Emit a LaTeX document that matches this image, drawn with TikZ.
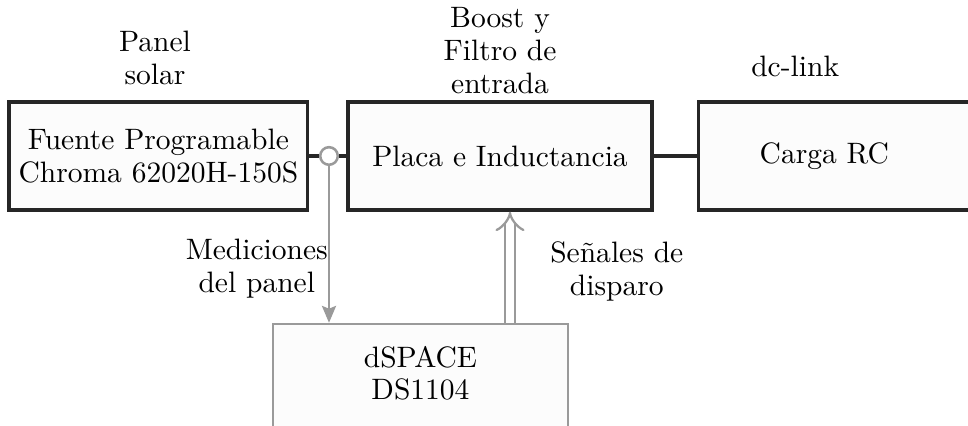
\documentclass[tikz,border=0pt]{standalone}
\usepackage{amsmath,amssymb}
\usepackage{tikz}
\usetikzlibrary{shapes,arrows.meta,positioning,calc}
\usepackage{xcolor}
\definecolor{sigGray}{HTML}{9A9A9A}

\begin{document}
\begin{tikzpicture}[
    font=\fontsize{10.5}{11.7}\selectfont,
    block/.style={draw=black!85, line width=1.2pt, fill=black!1, minimum height=1.35cm, align=center},
    dspbox/.style={draw=sigGray, line width=0.9pt, fill=black!1, minimum height=1.45cm},
    sigline/.style={draw=sigGray, line width=0.9pt, -{Stealth[length=6pt,width=5pt,inset=1pt]}},
    dblsig/.style={draw=sigGray, line width=0.8pt, double=white, double distance=2.8pt, -{Implies[length=5pt]}},
    txt/.style={align=center}
]
    \useasboundingbox (0,0) rectangle (12.1,5.325);
    \node[block, minimum width=3.69cm] (src) at (1.98,3.375) {Fuente Programable\\Chroma 62020H-150S};
    \node[block, minimum width=3.8cm] (boost) at (6.25,3.375) {Placa e Inductancia};
    \node[block, minimum width=3.8cm, anchor=west, label={[xshift=-0.33cm]center:Carga RC}] (load) at (8.7125,3.375) {};
    \node[dspbox, minimum width=3.6875cm, anchor=north, label={[yshift=0.11cm, align=center]center:dSPACE\\DS1104}] (dsp) at (5.256,1.29) {};
    \node[circle, draw=sigGray, line width=0.9pt, fill=white, inner sep=0pt, minimum size=0.22cm] (meas) at (4.1125,3.375) {};

    \node[txt] (lblsrc) at (1.9375,4.6) {Panel\\solar};
    \node[txt] (lblboost) at (6.25,4.69) {Boost y\\Filtro de\\entrada};
    \node[txt] (lbllink) at (9.94,4.5) {dc-link};
    \node[txt] (lblmeas) at (3.21,1.97) {Mediciones\\del panel};
    \node[txt] (lblfire) at (7.71,1.93) {Se\~nales de\\disparo};

    \coordinate (fire) at (6.375,0);
    \draw[line width=1.2pt, black!85] (src.east) -- (meas.west);
    \draw[line width=1.2pt, black!85] (meas.east) -- (boost.west);
    \draw[line width=1.2pt, black!85] (boost.east) -- (load.west);
    \draw[sigline] (meas.south) -- (meas.south |- dsp.north);
    \draw[dblsig] (dsp.north -| fire) -- (boost.south -| fire);
\end{tikzpicture}
\end{document}
